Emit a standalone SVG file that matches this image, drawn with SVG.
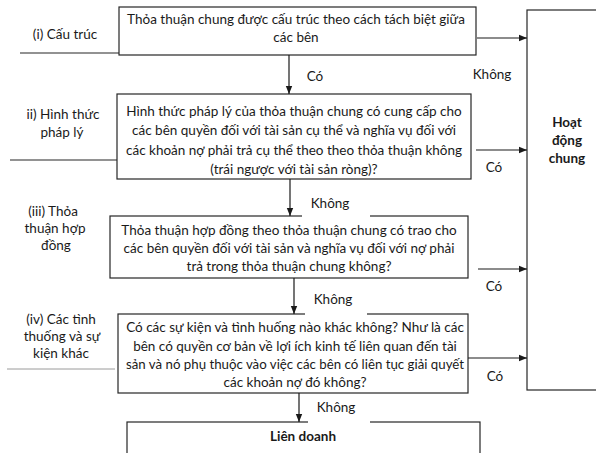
<svg xmlns="http://www.w3.org/2000/svg" width="596" height="453" viewBox="0 0 596 453">
<style>
text{font-family:Lato,"Liberation Sans",sans-serif;font-size:13.5px;fill:#1a1a1a}
.c{text-anchor:middle}
.b{font-weight:bold}
.box{fill:#fff;stroke:#262626;stroke-width:1.2}
.ln{stroke:#262626;stroke-width:1.2;fill:none}
.gl{stroke:#9a9a9a;stroke-width:1;fill:none}
.arr{stroke:#1a1a1a;stroke-width:1.2;fill:none;marker-end:url(#ah)}
</style>
<defs>
<marker id="ah" viewBox="0 0 8 8" refX="8" refY="4" markerWidth="8" markerHeight="8" markerUnits="userSpaceOnUse" orient="auto">
<path d="M0,0.8 L8,4 L0,7.2 Z" fill="#1a1a1a"/>
</marker>
</defs>
<rect width="596" height="453" fill="#fff"/>

<g id="labels-left">
<text class="c" x="65" y="39">(i) Cấu trúc</text>
<line class="ln" x1="20" y1="53" x2="119" y2="53"/>
<text class="c" x="63" y="119">ii) Hình thức</text>
<text class="c" x="62" y="137">pháp lý</text>
<line class="ln" x1="10" y1="160" x2="117" y2="160"/>
<text class="c" x="53" y="216">(iii) Thỏa</text>
<text class="c" x="55" y="233">thuận hợp</text>
<text class="c" x="56" y="250">đồng</text>
<text class="c" x="61" y="324">(iv) Các tình</text>
<text class="c" x="62" y="341">thuống và sự</text>
<text class="c" x="61" y="358">kiện khác</text>
<line class="gl" x1="7" y1="369" x2="115" y2="369"/>
</g>

<g id="node-structure">
<rect class="box" x="119" y="7" width="357" height="48"/>
<text class="c" x="296" y="24">Thỏa thuận chung được cấu trúc theo cách tách biệt giữa</text>
<text class="c" x="296" y="42">các bên</text>
</g>

<g id="node-legal">
<rect class="box" x="117" y="94" width="354" height="85"/>
<text class="c" x="294" y="116">Hình thức pháp lý của thỏa thuận chung có cung cấp cho</text>
<text class="c" x="294" y="135">các bên quyền đối với tài sản cụ thể và nghĩa vụ đối với</text>
<text class="c" x="294" y="155">các khoản nợ phải trả cụ thể theo theo thỏa thuận không</text>
<text class="c" x="294" y="174">(trái ngược với tài sản ròng)?</text>
</g>

<g id="node-contract">
<rect class="box" x="110" y="216" width="358" height="62"/>
<text class="c" x="289" y="235">Thỏa thuận hợp đồng theo thỏa thuận chung có trao cho</text>
<text class="c" x="289" y="253">các bên quyền đối với tài sản và nghĩa vụ đối với nợ phải</text>
<text class="c" x="289" y="271">trả trong thỏa thuận chung không?</text>
</g>

<g id="node-other">
<rect class="box" x="118" y="314" width="350" height="79"/>
<text class="c" x="295" y="332">Có các sự kiện và tình huống nào khác không? Như là các</text>
<text class="c" x="295" y="351">bên có quyền cơ bản về lợi ích kinh tế liên quan đến tài</text>
<text class="c" x="295" y="369" textLength="338" lengthAdjust="spacingAndGlyphs">sản và nó phụ thuộc vào việc các bên có liên tục giải quyết</text>
<text class="c" x="295" y="387">các khoản nợ đó không?</text>
</g>

<g id="node-jv">
<rect class="box" x="127" y="422" width="353" height="50"/>
<text class="c b" x="303" y="441">Liên doanh</text>
</g>

<g id="node-joint-operation">
<rect class="box" x="527" y="10" width="80" height="380"/>
<text class="c b" x="567" y="127">Hoạt</text>
<text class="c b" x="567" y="145">động</text>
<text class="c b" x="567" y="163">chung</text>
</g>

<g id="connectors">
<line class="arr" x1="289" y1="55" x2="289" y2="94"/>
<line class="arr" x1="290" y1="179" x2="290" y2="216"/>
<line class="arr" x1="294" y1="278" x2="294" y2="314"/>
<line class="arr" x1="299" y1="393" x2="299" y2="422"/>
<line class="arr" x1="477" y1="38" x2="527" y2="38"/>
<line class="arr" x1="476" y1="150" x2="527" y2="150"/>
<line class="arr" x1="478" y1="269" x2="527" y2="269"/>
<line class="arr" x1="468" y1="358" x2="527" y2="358"/>
</g>

<g id="connector-labels">
<text class="c" x="315" y="81">Có</text>
<text class="c" x="492" y="79">Không</text>
<text class="c" x="494" y="172">Có</text>
<rect x="302" y="194" width="68" height="23" fill="#fff"/>
<text class="c" x="330" y="208">Không</text>
<text class="c" x="494" y="291">Có</text>
<rect x="305" y="290" width="62" height="25" fill="#fff"/>
<text class="c" x="333" y="304">Không</text>
<text class="c" x="495" y="381">Có</text>
<rect x="308" y="398" width="62" height="25" fill="#fff"/>
<text class="c" x="336" y="412">Không</text>
</g>
</svg>
